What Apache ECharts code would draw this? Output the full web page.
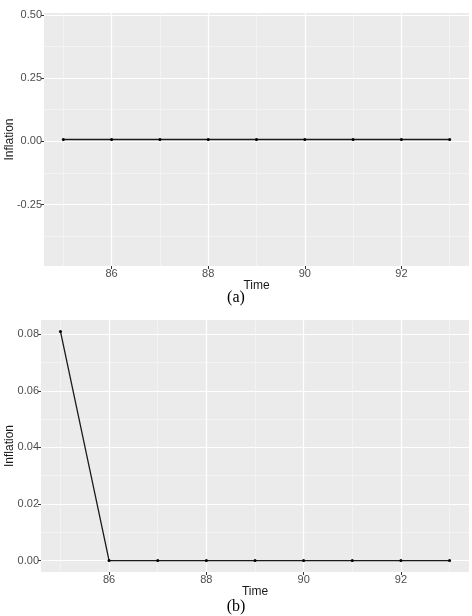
<!DOCTYPE html>
<html>
<head>
<meta charset="utf-8">
<script src="https://cdn.jsdelivr.net/npm/echarts@6/dist/echarts.min.js"></script>
<style>
  html, body { margin: 0; padding: 0; background: #fff; }
  #chart { width: 472px; height: 616px; }
</style>
</head>
<body>
<div id="chart"></div>
<script>
// data
const years = [85, 86, 87, 88, 89, 90, 91, 92, 93];
const inflationA = [0.007, 0.007, 0.007, 0.007, 0.007, 0.007, 0.007, 0.007, 0.007];
const inflationB = [0.081, 0, 0, 0, 0, 0, 0, 0, 0];

// ticks / grid lines (ggplot style: major + minor)
const xMajor = [86, 88, 90, 92];
const xMinor = [85, 87, 89, 91, 93];
const yMajorA = [-0.25, 0, 0.25, 0.5];
const yMinorA = [-0.375, -0.125, 0.125, 0.375];
const yMajorB = [0, 0.02, 0.04, 0.06, 0.08];
const yMinorB = [0.01, 0.03, 0.05, 0.07];

const tickColor = '#333';
const labelColor = '#4d4d4d';
const font = 'Liberation Sans';

function majorAxis (gridIndex, ticks, opts) {
  return Object.assign({
    type: 'value',
    gridIndex: gridIndex,
    axisLine: { show: false, onZero: false },
    axisTick: { show: true, length: 3, lineStyle: { color: tickColor, width: 1 }, customValues: ticks },
    axisLabel: { customValues: ticks, color: labelColor, fontFamily: font, fontSize: 11, margin: 2 },
    splitLine: { show: true, lineStyle: { color: '#ffffff', width: 1.2 } },
    nameTextStyle: { color: '#1a1a1a', fontFamily: font, fontSize: 12 }
  }, opts)
}

function minorAxis (gridIndex, ticks, opts) {
  return Object.assign({
    type: 'value',
    gridIndex: gridIndex,
    axisLine: { show: false, onZero: false },
    axisTick: { show: false, customValues: ticks },
    axisLabel: { show: false, customValues: ticks },
    splitLine: { show: true, lineStyle: { color: '#f5f5f5', width: 0.8 } }
  }, opts)
}

// y titles are drawn as rotated text
function yTitle (x, y) {
  return {
    type: 'text', x: x, y: y, rotation: Math.PI / 2,
    style: { text: 'Inflation', font: '12px "Liberation Sans"', fill: '#1a1a1a', textAlign: 'center', textVerticalAlign: 'middle' }
  }
}

const chart = echarts.init(document.getElementById('chart'))

chart.setOption({
  animation: false,
  backgroundColor: '#ffffff',
  grid: [
    { left: 44, right: 3, top: 13, height: 253, show: true, backgroundColor: '#ebebeb', borderWidth: 0, containLabel: false, outerBoundsMode: 'none' },
    { left: 41, right: 3, top: 320, height: 252, show: true, backgroundColor: '#ebebeb', borderWidth: 0, containLabel: false, outerBoundsMode: 'none' }
  ],
  xAxis: [
    minorAxis(0, xMinor, { min: 84.6, max: 93.4, position: 'top' }),
    majorAxis(0, xMajor, { min: 84.6, max: 93.4, position: 'bottom', name: 'Time', nameLocation: 'middle', nameGap: 13 }),
    minorAxis(1, xMinor, { min: 84.6, max: 93.4, position: 'top' }),
    majorAxis(1, xMajor, { min: 84.6, max: 93.4, position: 'bottom', name: 'Time', nameLocation: 'middle', nameGap: 13 })
  ],
  yAxis: [
    minorAxis(0, yMinorA, { min: -0.493, max: 0.507, position: 'right' }),
    majorAxis(0, yMajorA, {
      min: -0.493, max: 0.507, position: 'left',
      axisLabel: { customValues: yMajorA, color: labelColor, fontFamily: font, fontSize: 11, margin: 2, formatter: v => v.toFixed(2) }
    }),
    minorAxis(1, yMinorB, { min: -0.00405, max: 0.08505, position: 'right' }),
    majorAxis(1, yMajorB, {
      min: -0.00405, max: 0.08505, position: 'left',
      axisLabel: { customValues: yMajorB, color: labelColor, fontFamily: font, fontSize: 11, margin: 2, formatter: v => v.toFixed(2) }
    })
  ],
  series: [
    {
      type: 'line',
      xAxisIndex: 1,
      yAxisIndex: 1,
      data: years.map((y, i) => [y, inflationA[i]]),
      symbol: 'circle',
      symbolSize: 3,
      lineStyle: { color: '#1a1a1a', width: 1.3 },
      itemStyle: { color: '#000' }
    },
    {
      type: 'line',
      xAxisIndex: 3,
      yAxisIndex: 3,
      data: years.map((y, i) => [y, inflationB[i]]),
      symbol: 'circle',
      symbolSize: 3,
      lineStyle: { color: '#1a1a1a', width: 1.3 },
      itemStyle: { color: '#000' }
    }
  ],
  graphic: [
    yTitle(10, 139.5),
    yTitle(10, 446),
    { type: 'text', x: 236, y: 298, style: { text: '(a)', font: '16px "Liberation Serif"', fill: '#000', textAlign: 'center', textVerticalAlign: 'middle' } },
    { type: 'text', x: 236, y: 607, style: { text: '(b)', font: '16px "Liberation Serif"', fill: '#000', textAlign: 'center', textVerticalAlign: 'middle' } }
  ]
})
</script>
</body>
</html>
